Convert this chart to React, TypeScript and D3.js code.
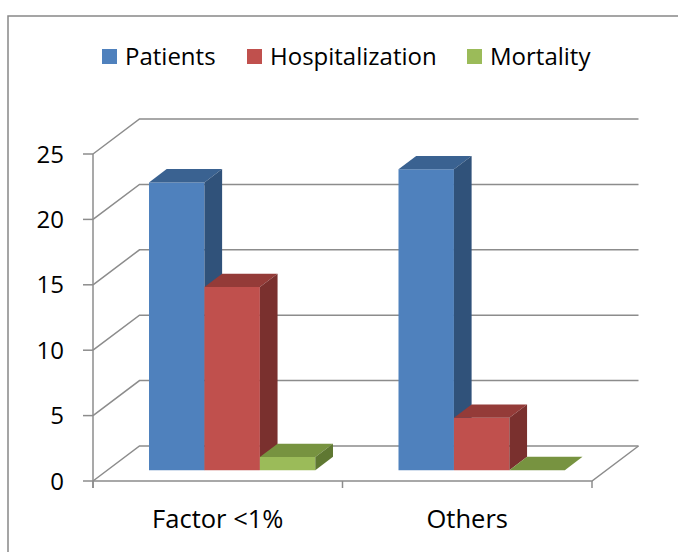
import React from "react";
import * as d3 from "d3";

const categories = ["Factor <1%", "Others"];
const seriesNames = ["Patients", "Hospitalization", "Mortality"];
const patients = [22, 23];
const hospitalization = [14, 4];
const mortality = [1, 0];
const yTicks = [0, 5, 10, 15, 20, 25];

const seriesValues = [patients, hospitalization, mortality];
const faceColors = [
  { front: "#4F81BD", top: "#3A6291", side: "#30527A" },
  { front: "#C0504D", top: "#943B38", side: "#7A302E" },
  { front: "#9BBB59", top: "#779340", side: "#5F7832" },
];

const W = 678;
const H = 552;
const DX = 46.5;
const DY = 35;
const T0 = 0.31;
const T1 = 0.69;
const FONT = "'Open Sans', 'Noto Sans', sans-serif";
const GRID = "#8C8C8C";

export default function App() {
  const y = d3.scaleLinear().domain([0, 25]).range([481, 154]);
  const x = d3
    .scaleBand<string>()
    .domain(categories)
    .range([93, 592])
    .paddingInner(1 / 3)
    .paddingOuter(1 / 6);
  const xs = d3.scaleBand<string>().domain(seriesNames).range([0, x.bandwidth()]);
  const x0 = 93;
  const x1 = 592;

  const P = (px: number, v: number, t: number): [number, number] => [px + t * DX, y(v) - t * DY];
  const pts = (arr: [number, number][]) => arr.map((p) => p.join(",")).join(" ");

  const bars: React.ReactNode[] = [];
  categories.forEach((c, ci) => {
    seriesNames.forEach((s, si) => {
      const v = seriesValues[si][ci];
      const a = (x(c) as number) + (xs(s) as number);
      const b = a + xs.bandwidth();
      const col = faceColors[si];
      const key = `${ci}-${si}`;
      if (v > 0) {
        bars.push(
          <g key={key}>
            <polygon points={pts([P(a, 0, T0), P(b, 0, T0), P(b, v, T0), P(a, v, T0)])} fill={col.front} />
            <polygon points={pts([P(a, v, T0), P(b, v, T0), P(b, v, T1), P(a, v, T1)])} fill={col.top} />
            <polygon points={pts([P(b, 0, T0), P(b, 0, T1), P(b, v, T1), P(b, v, T0)])} fill={col.side} />
          </g>
        );
      } else {
        bars.push(
          <polygon key={key} points={pts([P(a, 0, T0), P(b, 0, T0), P(b, 0, T1), P(a, 0, T1)])} fill={col.top} />
        );
      }
    });
  });

  const legendX = [102, 247, 467];

  return (
    <svg width={W} height={H} style={{ position: "absolute", left: 0, top: 0, background: "#fff" }}>
      <rect x={8} y={16} width={W + 10} height={H + 10} fill="#fff" stroke="#888" strokeWidth={1.5} />
      {/* walls */}
      {yTicks.map((t) => {
        const p0 = P(x0, t, 0);
        const p1 = P(x0, t, 1);
        const p2 = P(x1, t, 1);
        return (
          <g key={t}>
            <polyline points={pts([p0, p1, p2])} fill="none" stroke={GRID} strokeWidth={1.5} />
            <line x1={x0 - 10} x2={x0} y1={y(t)} y2={y(t)} stroke={GRID} strokeWidth={1.5} />
            <text x={64} y={y(t)} dy="0.36em" textAnchor="end" fontFamily={FONT} fontSize={24} fill="#000">
              {t}
            </text>
          </g>
        );
      })}
      {/* floor */}
      <polyline points={pts([P(x0, 0, 0), P(x1, 0, 0), P(x1, 0, 1)])} fill="none" stroke={GRID} strokeWidth={1.5} />
      <line x1={x0} x2={x0} y1={y(25)} y2={y(0) + 7} stroke={GRID} strokeWidth={1.5} />
      {[x0, x0 + x.step(), x1].map((tx, i) => (
        <line key={i} x1={tx} x2={tx} y1={y(0)} y2={y(0) + 7} stroke={GRID} strokeWidth={1.5} />
      ))}
      {bars}
      {categories.map((c) => (
        <text
          key={c}
          x={(x(c) as number) + x.bandwidth() / 2}
          y={528}
          textAnchor="middle"
          fontFamily={FONT}
          fontSize={25.5}
          fill="#000"
        >
          {c}
        </text>
      ))}
      {/* legend */}
      {seriesNames.map((s, i) => (
        <g key={s}>
          <rect x={legendX[i]} y={49} width={15} height={15} fill={faceColors[i].front} />
          <text x={legendX[i] + 23} y={56.5} dy="0.36em" fontFamily={FONT} fontSize={24} fill="#000">
            {s}
          </text>
        </g>
      ))}
    </svg>
  );
}
